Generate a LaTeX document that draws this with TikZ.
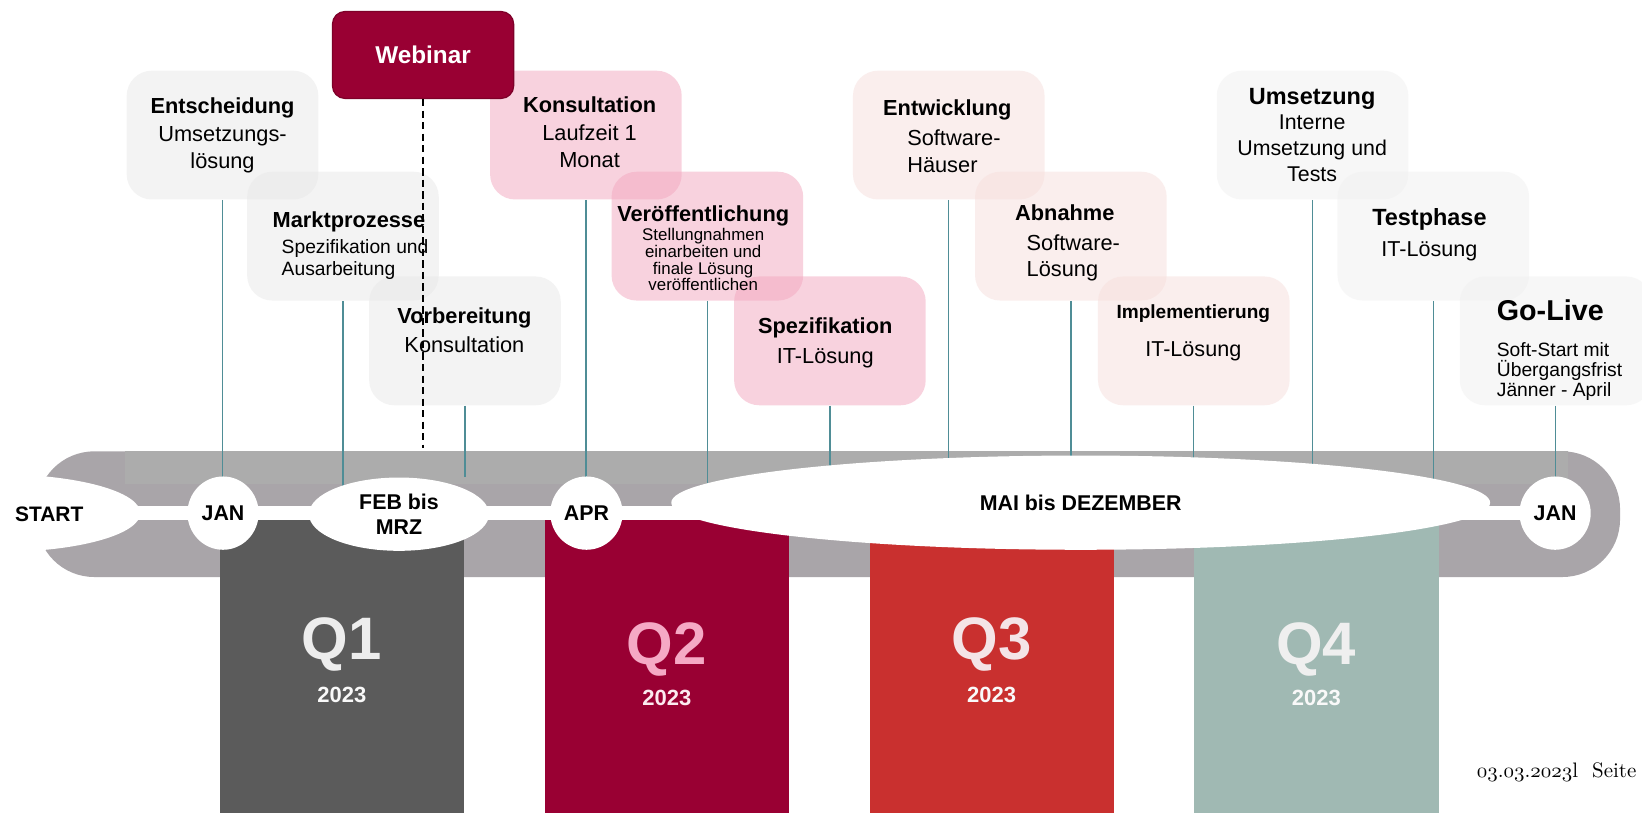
\documentclass[tikz,border=0pt]{standalone}
\usepackage{fontspec}
\newfontfamily\arial{Liberation Sans}
\usetikzlibrary{shapes.geometric,backgrounds}
\lineskiplimit=-20pt

\definecolor{bandbot}{HTML}{A9A5A9}
\definecolor{bandtop}{HTML}{ACACAC}
\definecolor{conncol}{HTML}{4F8D96}
\definecolor{webred}{HTML}{990033}
\definecolor{webedge}{HTML}{7E0029}
\definecolor{boxgray}{HTML}{E9E9E9}
\definecolor{boxpink}{HTML}{F3A7BF}
\definecolor{boxrose}{HTML}{F7DFDD}
\definecolor{boxlight}{HTML}{F1F1F1}
\definecolor{q1col}{HTML}{5B5B5B}
\definecolor{q2col}{HTML}{990033}
\definecolor{q3col}{HTML}{C9302F}
\definecolor{q4col}{HTML}{A0B9B3}
\definecolor{q1txt}{HTML}{EDEDED}
\definecolor{q2txt}{HTML}{F5A9C5}
\definecolor{q3txt}{HTML}{F4E4E7}
\definecolor{q4txt}{HTML}{EFEFEF}

\tikzset{>=stealth,font=\arial}
\tikzset{
  fnt/.style 2 args={font=\arial\fontsize{#1}{#2}\selectfont},
  box/.style={rounded corners=12pt,minimum width=91.5pt,minimum height=61.5pt,inner sep=0pt,fill opacity=0.5},
  txt/.style={inner sep=0pt,anchor=north,align=center},
  month/.style={ellipse,fill=white,inner sep=0pt,minimum width=34pt,minimum height=35pt,align=center,font=\arial\bfseries\fontsize{10.2}{12}\selectfont},
  webbox/.style={rounded corners=6pt,fill=webred,draw=webedge,line width=0.6pt,minimum width=86.5pt,minimum height=41.5pt,text=white,font=\arial\bfseries\fontsize{11.6}{13}\selectfont},
  webline/.style={black,line width=0.6pt,dash pattern=on 3.5pt off 2pt},
  conn/.style={draw=conncol,line width=0.6pt},
  wline/.style={white,line width=6.5pt},
  qlab/.style={anchor=base,font=\arial\bfseries\fontsize{28.6}{30}\selectfont},
  qyear/.style={anchor=base,font=\arial\bfseries\fontsize{10.5}{12}\selectfont},
}

\begin{document}
\begin{tikzpicture}[x=0.5pt,y=-0.5pt]
\useasboundingbox (0,0) rectangle (1568,776);
\clip (0,0) rectangle (1568,776);

% boxes
\node[box,fill=boxgray] (b1) at (212.5,129) {};
\node[box,fill=boxgray] (b2) at (327.5,225.5) {};
\node[box,fill=boxgray] (b3) at (444,325.5) {};
\node[box,fill=boxpink] (b4) at (559.5,129) {};
\node[box,fill=boxpink] (b5) at (675.5,225.5) {};
\node[box,fill=boxpink] (b6) at (792.5,325.5) {};
\node[box,fill=boxrose] (b7) at (906,129) {};
\node[box,fill=boxrose] (b8) at (1022.6,225.5) {};
\node[box,fill=boxrose] (b9) at (1140,325.5) {};
\node[box,fill=boxlight] (b10) at (1253.4,129) {};
\node[box,fill=boxlight] (b11) at (1368.7,225.5) {};
\node[box,fill=boxlight] (b12) at (1485.5,325.5) {};

% box texts
\node[txt,fnt={10.4}{12.8}] (t1) at (212.5,92.8) {\textbf{Entscheidung}\\[0.7pt]Umsetzungs-\\lösung};
\node[txt,fnt={9.2}{10.6},anchor=north west,align=left] (t2) at (260,201.3)
  {{\fontsize{10.4}{10.6}\selectfont\bfseries Marktprozesse}\\[2pt]\hspace*{4.3pt}Spezifikation und\\\hspace*{4.3pt}Ausarbeitung};
\node[txt,fnt={10.4}{13.65}] (t3) at (443.5,293.5) {\textbf{Vorbereitung}\\Konsultation};
\node[txt,fnt={10.4}{12.8}] (t4) at (563,91.8) {\textbf{Konsultation}\\[0.7pt]Laufzeit 1\\Monat};
\node[txt,fnt={8.06}{7.9}] (t5) at (671.5,196.5)
  {{\fontsize{10.4}{7.9}\selectfont\bfseries Veröffentlichung}\\[1.15pt]Stellungnahmen\\einarbeiten und\\finale Lösung\\veröffentlichen};
\node[txt,fnt={10.4}{14.4}] (t6) at (788,302.8) {\textbf{Spezifikation}\\IT-Lösung};
\node[txt,fnt={10.4}{12.75},anchor=north west,align=left] (t7) at (843,94.6)
  {\textbf{Entwicklung}\\[1.6pt]\hspace*{11.5pt}Software-\\\hspace*{11.5pt}Häuser};
\node[txt,fnt={10.4}{12.65},anchor=north west,align=left] (t8) at (969,194.8)
  {\textbf{Abnahme}\\[1.7pt]\hspace*{5.5pt}Software-\\\hspace*{5.5pt}Lösung};
\node[txt,fnt={10.3}{18.4}] (t9) at (1139.5,290.5) {{\fontsize{9.1}{18.4}\selectfont\bfseries Implementierung}\\IT-Lösung};
\node[txt,fnt={10.2}{12.2}] (t10) at (1253,83.9) {{\fontsize{11.2}{12.2}\selectfont\bfseries Umsetzung}\\Interne\\Umsetzung und\\Tests};
\node[txt,fnt={10.3}{15}] (t11) at (1365,198.5) {{\fontsize{11.2}{15}\selectfont\bfseries Testphase}\\IT-Lösung};
\node[txt,fnt={9.2}{9.5},anchor=north west,align=left] (t12) at (1429,285.6)
  {{\fontsize{13.7}{9.5}\selectfont\bfseries Go-Live}\\[7.7pt]Soft-Start mit\\Übergangsfrist\\Jänner - April};

% months on the band
\node[month,minimum width=134pt,minimum height=37pt] (startcap) at (0,490) {};
\node[font=\arial\bfseries\fontsize{10}{12}\selectfont,inner sep=0pt] (start) at (47,491) {START};
\node[month] (jan1) at (213,490) {JAN};
\node[month,minimum width=86pt] (febmrz) at (381,491) {FEB bis\\MRZ};
\node[month,minimum width=34.5pt] (apr) at (560,490) {APR};
\node[month,minimum width=391pt,minimum height=45pt] (maidez) at (1032,480) {MAI bis DEZEMBER};
\node[month] (jan2) at (1485,490) {JAN};

% webinar
\node[webbox] (web) at (404,52.5) {Webinar};
\coordinate (webend) at (404,428);
\draw[webline] (web.south) -- (webend);

% quarters
\node[qlab,text=q1txt] (q1) at (326.5,630) {Q1};
\node[qyear,text=white!95!gray] (y1) at (326.5,671) {2023};
\node[qlab,text=q2txt] (q2) at (636.8,634.5) {Q2};
\node[qyear,text=q2txt!25!white] (y2) at (636.8,674) {2023};
\node[qlab,text=q3txt] (q3) at (947,630) {Q3};
\node[qyear,text=white!95!gray] (y3) at (947,671) {2023};
\node[qlab,text=q4txt] (q4) at (1257,634.5) {Q4};
\node[qyear,text=white!95!gray] (y4) at (1257,674) {2023};

\node[anchor=base east,font=\rmfamily\fontsize{10}{12}\selectfont,inner sep=0pt] (foot) at (1563,742) {$\mathnormal{03.03.2023}$l\ \ Seite};

\begin{scope}[on background layer]
\fill[white] (0,0) rectangle (1568,776);
\fill[bandbot,rounded corners=27.5pt] (35,431) rectangle (1547,551);
\fill[bandtop] (119,431) rectangle (1497,462);
\draw[wline] (startcap.center) -- (jan2.center);
\fill[q1col] (210,497) rectangle (443,776);
\fill[q2col] (520.5,497) rectangle (753,776);
\fill[q3col] (830.6,497) rectangle (1063.4,776);
\fill[q4col] (1140.5,497) rectangle (1373.8,776);
\foreach \bx/\mx in {b1/jan1,b2/febmrz,b4/apr,b5/maidez,b6/maidez,b7/maidez,b8/maidez,b9/maidez,b10/maidez,b11/maidez,b12/jan2}
  \draw[conn] (\bx.south) -- (\bx.south |- \mx.center);
\draw[conn] (b3.south) -- (b3.south |- febmrz.north);
\end{scope}
\end{tikzpicture}
\end{document}
